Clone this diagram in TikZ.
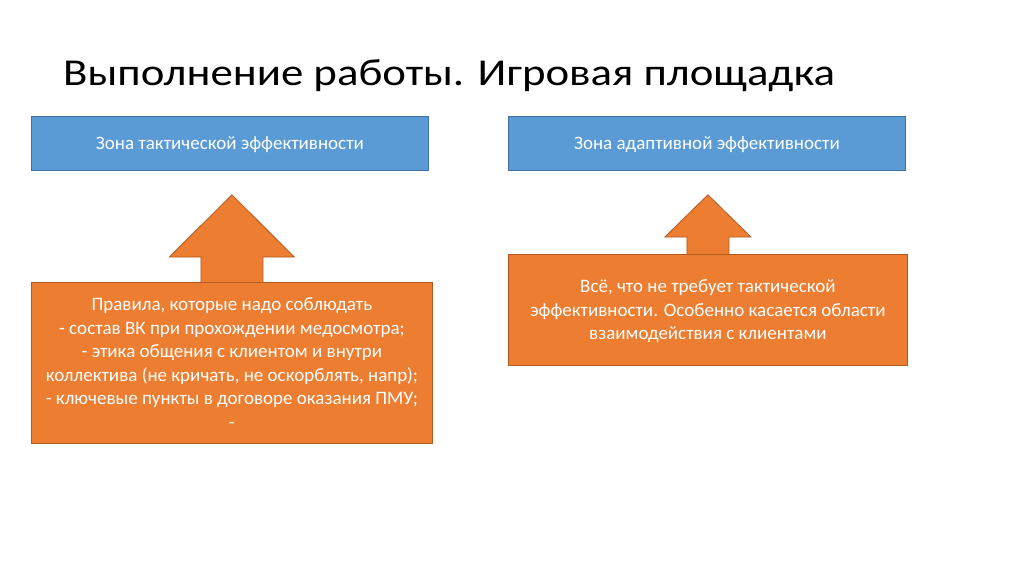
\documentclass[tikz,border=0pt]{standalone}
\usepackage{fontspec}
\setmainfont{Carlito}
\usepackage{tikz}
\usetikzlibrary{positioning, calc}
\definecolor{cBlue}{RGB}{91,155,213}
\definecolor{cBlueEdge}{RGB}{65,113,156}
\definecolor{cOrange}{RGB}{237,125,49}
\definecolor{cOrangeEdge}{RGB}{174,90,33}
\tikzset{
	zone/.style     ={rectangle, draw=cBlueEdge, line width=0.8pt, fill=cBlue, text=white, minimum width=397pt, minimum height=54pt, inner sep=0pt, align=center, font=\fontsize{19}{23.5}\selectfont},
	note/.style     ={rectangle, draw=cOrangeEdge, line width=0.8pt, fill=cOrange, text=white, inner sep=0pt, align=center, font=\fontsize{19}{23.5}\selectfont},
	blockarrow/.style={draw=cOrangeEdge, line width=0.8pt, fill=cOrange, line join=miter},
}
\begin{document}
\begin{tikzpicture}[x=1pt, y=-1pt]
	\useasboundingbox[fill=white] (0,0) rectangle (1024,574);
	% title
	\node[anchor=base west, inner sep=0pt, font=\fontsize{38}{44}\selectfont] (title) at (63,85) {\scalebox{1.18}[1]{Выполнение работы. Игровая площадка}};
	% upper zones
	\node[zone, anchor=north west, text depth=-4pt] (tact) at (31,116) {Зона тактической эффективности};
	\node[zone, anchor=north west, text depth=-4pt] (adapt) at (508,116) {Зона адаптивной эффективности};
	% lower boxes
	\node[note, anchor=north west, minimum width=401pt, minimum height=161pt, text depth=-6pt] (rules) at (31,282) {Правила, которые надо соблюдать\\
		- состав ВК при прохождении медосмотра;\\
		- этика общения с клиентом и внутри\\
		коллектива (не кричать, не оскорблять, напр);\\
		- ключевые пункты в договоре оказания ПМУ;\\
		-};
	\node[note, anchor=north west, minimum width=399pt, minimum height=111pt, text depth=-24pt] (other) at (508,254) {Всё, что не требует тактической\\
		эффективности. Особенно касается области\\
		взаимодействия с клиентами};
	% block arrows
	\draw[blockarrow] ($(rules.north)+(-31,0)$) -- ++(0,-25) -- ++(-31.5,0)
		-- ($(rules.north |- tact.south)+(0,24)$) -- ($(rules.north)+(62.5,-25)$)
		-- ++(-31.5,0) -- ($(rules.north)+(31,0)$);
	\draw[blockarrow] ($(other.north)+(-21,0)$) -- ++(0,-17) -- ++(-22,0)
		-- ($(other.north |- adapt.south)+(0,24)$) -- ($(other.north)+(43,-17)$)
		-- ++(-22,0) -- ($(other.north)+(21,0)$);
\end{tikzpicture}
\end{document}
